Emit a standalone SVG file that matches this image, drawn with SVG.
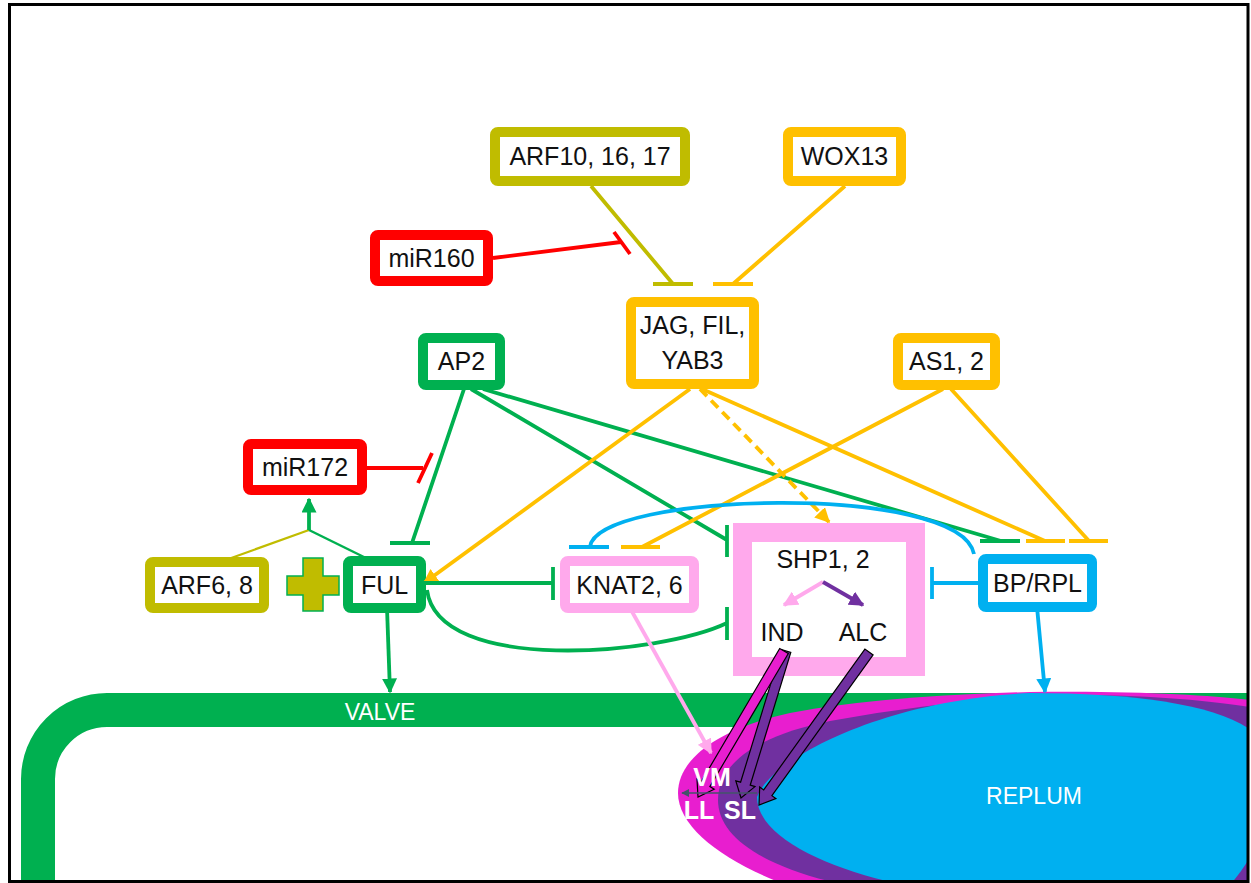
<svg xmlns="http://www.w3.org/2000/svg" width="1251" height="883" viewBox="0 0 1251 883">
<defs>
<style>
text{font-family:"Liberation Sans",Arial,sans-serif;font-size:25px;fill:#111;text-anchor:middle}
.lbl{fill:#fff;font-size:23px}
.bl{fill:#fff;font-size:25px;font-weight:bold}
.box{fill:#fff;stroke-width:10}
.c{fill:none;stroke-width:3.8}
.g{stroke:#00B050}.o{stroke:#FFC000}.r{stroke:#FF0000}.b{stroke:#00B0F0}.p{stroke:#FFA9EC}.y{stroke:#C0BC00}.v{stroke:#7030A0}
.blk{stroke:#000;stroke-width:1.2;stroke-linejoin:miter}
</style>
<marker id="ag" viewBox="0 0 10 10" refX="9" refY="5" markerUnits="userSpaceOnUse" markerWidth="15" markerHeight="15" orient="auto"><path d="M0,0 L10,5 L0,10 z" fill="#00B050"/></marker>
<marker id="ao" viewBox="0 0 10 10" refX="9" refY="5" markerUnits="userSpaceOnUse" markerWidth="15" markerHeight="15" orient="auto"><path d="M0,0 L10,5 L0,10 z" fill="#FFC000"/></marker>
<marker id="ab" viewBox="0 0 10 10" refX="9" refY="5" markerUnits="userSpaceOnUse" markerWidth="15" markerHeight="15" orient="auto"><path d="M0,0 L10,5 L0,10 z" fill="#00B0F0"/></marker>
<marker id="ap" viewBox="0 0 10 10" refX="9" refY="5" markerUnits="userSpaceOnUse" markerWidth="15" markerHeight="15" orient="auto"><path d="M0,0 L10,5 L0,10 z" fill="#FFA9EC"/></marker>
<marker id="av" viewBox="0 0 10 10" refX="9" refY="5" markerUnits="userSpaceOnUse" markerWidth="15" markerHeight="15" orient="auto"><path d="M0,0 L10,5 L0,10 z" fill="#7030A0"/></marker>
<marker id="ad" viewBox="0 0 10 10" refX="9" refY="5" markerUnits="userSpaceOnUse" markerWidth="8" markerHeight="8" orient="auto"><path d="M0,0 L10,5 L0,10 z" fill="#44546A"/></marker>
<clipPath id="fr"><rect x="10" y="4" width="1238" height="877"/></clipPath>
</defs>
<rect x="0" y="0" width="1251" height="883" fill="#fff"/>

<g id="tissue" clip-path="url(#fr)">
<path d="M38,890 L38,779 A69,69 0 0 1 107,710 L1260,710" fill="none" stroke="#00B050" stroke-width="34"/>
<path d="M678,793 C678,758 720,728 790,713 C860,700 950,694 1030,692 C1150,690 1240,697 1270,703 L1270,890 L800,890 C730,866 678,830 678,793 Z" fill="#E81ECF"/>
<path d="M718,800 C718,762 760,735 830,721 C900,708 970,700 1040,696 C1150,692 1240,704 1270,711 L1270,890 L870,890 C770,872 718,840 718,800 Z" fill="#7030A0"/>
<path d="M757,797 C770,760 880,700 1030,693 C1150,693 1235,708 1262,740 C1285,770 1270,845 1225,890 L930,890 C840,875 757,840 757,797 Z" fill="#00B0F0"/>
<text class="lbl" x="380" y="720">VALVE</text>
<text class="lbl" x="1034" y="804">REPLUM</text>
</g>

<g id="n-arf10"><rect class="box y" x="495" y="132" width="190" height="49" rx="3"/><text x="590" y="165">ARF10, 16, 17</text></g>
<g id="n-wox13"><rect class="box o" x="788" y="132" width="113" height="49" rx="3"/><text x="844.5" y="165">WOX13</text></g>
<g id="n-mir160"><rect class="box r" x="375" y="235" width="113" height="46" rx="3"/><text x="431.5" y="267">miR160</text></g>
<g id="n-jag"><rect class="box o" x="631" y="302" width="123" height="82" rx="3"/><text x="692.5" y="334">JAG, FIL,</text><text x="692.5" y="369">YAB3</text></g>
<g id="n-ap2"><rect class="box g" x="423" y="338" width="77" height="47" rx="3"/><text x="461.5" y="370">AP2</text></g>
<g id="n-as12"><rect class="box o" x="898" y="338" width="97" height="47" rx="3"/><text x="946.5" y="370">AS1, 2</text></g>
<g id="n-mir172"><rect class="box r" x="248" y="444" width="114" height="46" rx="3"/><text x="305" y="476">miR172</text></g>
<g id="n-arf68"><rect class="box y" x="150" y="562" width="114" height="46" rx="3"/><text x="207" y="594">ARF6, 8</text></g>
<g id="n-plus"><path d="M303,558 H323 V576 H339 V595 H323 V611 H303 V595 H287 V576 H303 Z" fill="#C0BC00" stroke="#00B050" stroke-width="1.5"/></g>
<g id="n-ful"><rect class="box g" x="348" y="561" width="73" height="47" rx="3"/><text x="384.5" y="594">FUL</text></g>
<g id="n-knat"><rect class="box p" x="565" y="561" width="129" height="47" rx="3"/><text x="629.5" y="594">KNAT2, 6</text></g>
<g id="n-bprpl"><rect class="box b" x="983" y="559" width="109" height="48" rx="3"/><text x="1037.5" y="592">BP/RPL</text></g>
<g id="n-shp"><rect x="742.5" y="532.5" width="173" height="134" fill="#fff" stroke="#FFA9EC" stroke-width="19"/>
<text x="823" y="568">SHP1, 2</text><text x="782" y="641">IND</text><text x="863" y="641">ALC</text></g>

<g id="connectors">
<path class="c y" d="M591,186 L673,284 M653,284 H693"/>
<path class="c o" d="M845,186 L733,284 M713,284 H753"/>
<path class="c r" d="M493,258 L621,242 M614,232 L630,254"/>
<path class="c r" d="M367,468 L423,468 M432,453 L418,483"/>
<path class="c g" d="M464,389 L412,543 M390,543 H430"/>
<path class="c g" d="M471,389 L727,540 M727,525 V557"/>
<path class="c g" d="M483,389 L1001,541 M980,541 H1020"/>
<path class="c o" d="M690,389 L424,583" marker-end="url(#ao)"/>
<path class="c o" d="M700,389 L829,522" stroke-dasharray="10 6" marker-end="url(#ao)"/>
<path class="c o" d="M702,389 L1045,541 M1026,541 H1065"/>
<path class="c o" d="M943,389 L642,547 M621,547 H660"/>
<path class="c o" d="M951,389 L1089,541 M1069,541 H1108"/>
<path class="c b" d="M974,554 C960,482 595,492 590,547 M569,547 H609"/>
<path class="c b" d="M983,583 H932 M932,567 V599"/>
<path class="c b" d="M1037,607 L1045,692" marker-end="url(#ab)"/>
<path class="c g" d="M421,583 H553 M553,567 V600"/>
<path class="c g" d="M427,590 C438,675 660,655 727,623 M727,607 V640"/>
<path class="c g" d="M387,608 L390,692" marker-end="url(#ag)"/>
<path d="M220,562 L309,530" fill="none" stroke="#C0BC00" stroke-width="2.2"/>
<path d="M372,561 L309,530" fill="none" stroke="#00B050" stroke-width="2.5"/>
<path class="c g" d="M309,530 L309,499" marker-end="url(#ag)"/>
<path class="c p" d="M630,608 L711,753" marker-end="url(#ap)"/>
<path class="c p" d="M823,582 L784,605" marker-end="url(#ap)"/>
<path class="c v" d="M823,582 L863,605" marker-end="url(#av)"/>
<polygon class="blk" fill="#7030A0" points="781.2,649.5 740.6,782.2 735.8,780.8 741,798 755.0,786.6 750.2,785.2 790.8,652.5"/>
<polygon class="blk" fill="#E81ECF" points="779.7,648.5 701.3,781.6 697.0,779.0 698,797 714.2,789.2 709.9,786.6 788.3,653.5"/>
<polygon class="blk" fill="#7030A0" points="864.9,649.1 763.7,789.9 759.7,787.0 759,805 775.9,798.6 771.9,795.7 873.1,654.9"/>
<path d="M757,793 L682,793" fill="none" stroke="#44546A" stroke-width="1.5" marker-end="url(#ad)"/>
</g>

<g id="tissue-labels">
<text class="bl" x="712" y="786">VM</text>
<text class="bl" x="699" y="819">LL</text>
<text class="bl" x="740" y="819">SL</text>
</g>

<rect x="9.5" y="4.5" width="1238.5" height="877" fill="none" stroke="#000" stroke-width="3"/>
</svg>
